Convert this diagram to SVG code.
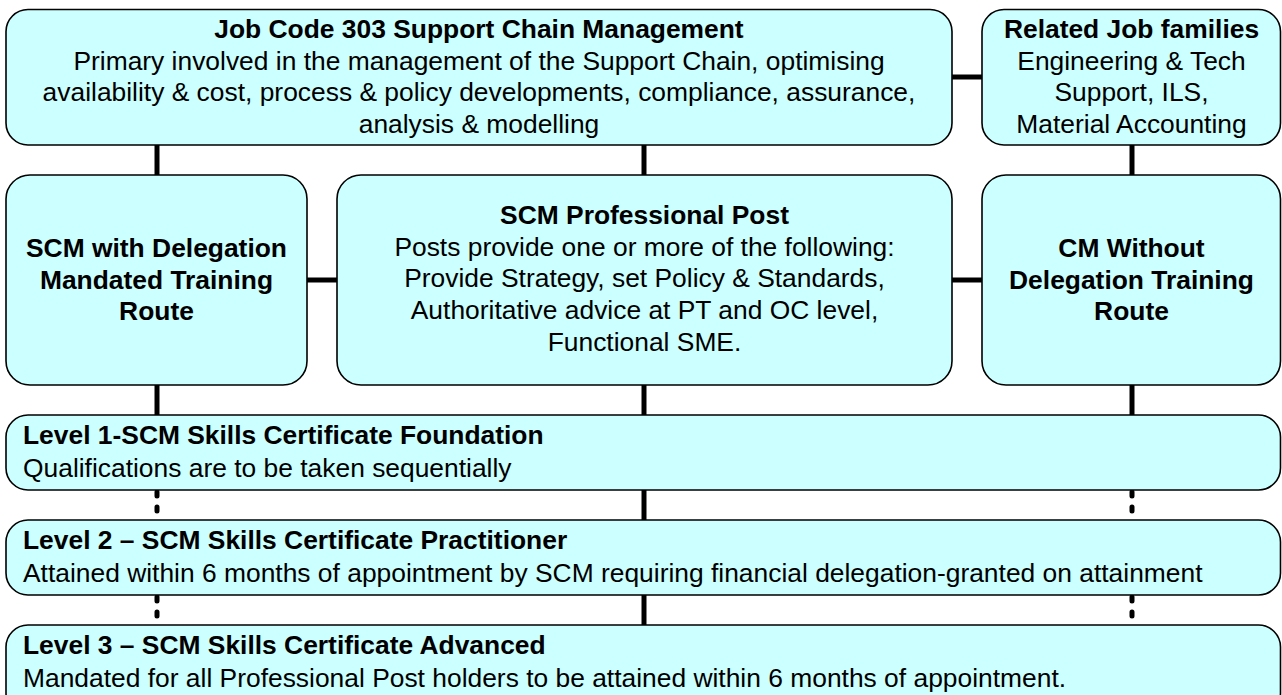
<svg xmlns="http://www.w3.org/2000/svg" width="1282" height="695" viewBox="0 0 1282 695">
<style>
.box{fill:#CCFFFF;stroke:#000;stroke-width:1.6}
text{font-family:"Liberation Sans",Arial,sans-serif;font-size:26.4px;fill:#000}
.b{font-weight:bold}
.c{text-anchor:middle}
.con{stroke:#000;stroke-width:5;fill:none}
.dot{stroke:#000;stroke-width:5;fill:none;stroke-linecap:round;stroke-dasharray:4 11}
</style>
<rect width="1282" height="695" fill="#fff"/>
<g id="connectors">
<line class="con" x1="952" y1="77" x2="982" y2="77"/>
<line class="con" x1="157" y1="145" x2="157" y2="175"/>
<line class="con" x1="644" y1="145" x2="644" y2="175"/>
<line class="con" x1="1132" y1="145" x2="1132" y2="175"/>
<line class="con" x1="307" y1="280" x2="337" y2="280"/>
<line class="con" x1="952" y1="280" x2="982" y2="280"/>
<line class="con" x1="157" y1="385" x2="157" y2="415"/>
<line class="con" x1="644" y1="385" x2="644" y2="415"/>
<line class="con" x1="1132" y1="385" x2="1132" y2="415"/>
<line class="dot" x1="157" y1="492" x2="157" y2="520"/>
<line class="con" x1="644" y1="490" x2="644" y2="520"/>
<line class="dot" x1="1132" y1="492" x2="1132" y2="520"/>
<line class="dot" x1="157" y1="597" x2="157" y2="625"/>
<line class="con" x1="644" y1="595" x2="644" y2="625"/>
<line class="dot" x1="1132" y1="597" x2="1132" y2="625"/>
</g>
<g id="jobcode">
<rect class="box" x="6" y="9.5" width="946" height="135.5" rx="22" ry="22"/>
<text class="b c" x="479" y="38">Job Code 303 Support Chain Management</text>
<text class="c" x="479" y="69.7">Primary involved in the management of the Support Chain, optimising</text>
<text class="c" x="479" y="101.3">availability &amp; cost, process &amp; policy developments, compliance, assurance,</text>
<text class="c" x="479" y="133">analysis &amp; modelling</text>
</g>
<g id="related">
<rect class="box" x="982" y="9.5" width="298.5" height="135.5" rx="22" ry="22"/>
<text class="b c" x="1131.5" y="38">Related Job families</text>
<text class="c" x="1131.5" y="69.7">Engineering &amp; Tech</text>
<text class="c" x="1131.5" y="101.3">Support, ILS,</text>
<text class="c" x="1131.5" y="133">Material Accounting</text>
</g>
<g id="withdelegation">
<rect class="box" x="6" y="175" width="301" height="210" rx="24" ry="24"/>
<text class="b c" x="156.5" y="257">SCM with Delegation</text>
<text class="b c" x="156.5" y="288.7">Mandated Training</text>
<text class="b c" x="156.5" y="320.4">Route</text>
</g>
<g id="professional">
<rect class="box" x="337" y="175" width="615" height="210" rx="24" ry="24"/>
<text class="b c" x="644.5" y="224">SCM Professional Post</text>
<text class="c" x="644.5" y="255.7">Posts provide one or more of the following:</text>
<text class="c" x="644.5" y="287.4">Provide Strategy, set Policy &amp; Standards,</text>
<text class="c" x="644.5" y="319.1">Authoritative advice at PT and OC level,</text>
<text class="c" x="644.5" y="350.8">Functional SME.</text>
</g>
<g id="withoutdelegation">
<rect class="box" x="982" y="175" width="298.5" height="210" rx="24" ry="24"/>
<text class="b c" x="1131.5" y="257">CM Without</text>
<text class="b c" x="1131.5" y="288.7">Delegation Training</text>
<text class="b c" x="1131.5" y="320.4">Route</text>
</g>
<g id="level1">
<rect class="box" x="6" y="415" width="1274.5" height="75" rx="22" ry="22"/>
<text class="b" x="23" y="444">Level 1-SCM Skills Certificate Foundation</text>
<text x="23" y="477">Qualifications are to be taken sequentially</text>
</g>
<g id="level2">
<rect class="box" x="6" y="520" width="1274.5" height="75" rx="22" ry="22"/>
<text class="b" x="23" y="549">Level 2 – SCM Skills Certificate Practitioner</text>
<text x="23" y="582">Attained within 6 months of appointment by SCM requiring financial delegation-granted on attainment</text>
</g>
<g id="level3">
<rect class="box" x="6" y="625" width="1274.5" height="90" rx="22" ry="22"/>
<text class="b" x="23" y="654">Level 3 – SCM Skills Certificate Advanced</text>
<text x="23" y="687">Mandated for all Professional Post holders to be attained within 6 months of appointment.</text>
</g>
</svg>
